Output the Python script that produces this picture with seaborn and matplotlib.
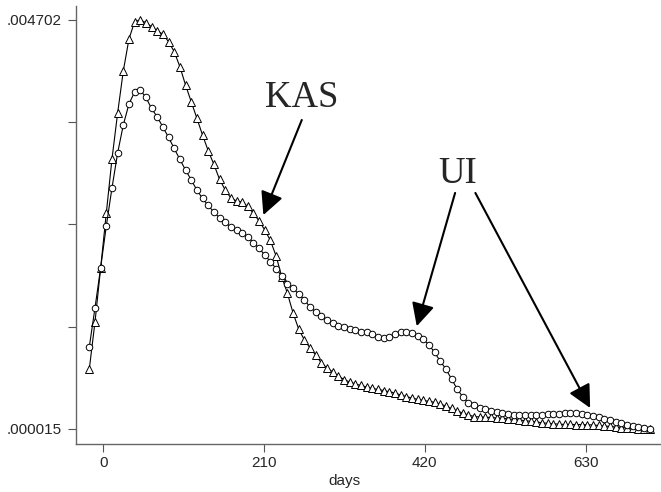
import numpy as np
import pandas as pd
import matplotlib
matplotlib.use("Agg")
import matplotlib.pyplot as plt
import seaborn as sns

# kernel density of spell length, evaluated on 100 grid points (days)
days = [-18.3, -10.9, -3.5, 3.9, 11.3, 18.7, 26.1, 33.5, 40.9, 48.2,
        55.6, 63.0, 70.4, 77.8, 85.2, 92.6, 100.0, 107.4, 114.8, 122.2,
        129.6, 137.0, 144.4, 151.8, 159.2, 166.6, 174.0, 181.3, 188.7, 196.1,
        203.5, 210.9, 218.3, 225.7, 233.1, 240.5, 247.9, 255.3, 262.7, 270.1,
        277.5, 284.9, 292.3, 299.7, 307.0, 314.4, 321.8, 329.2, 336.6, 344.0,
        351.4, 358.8, 366.2, 373.6, 381.0, 388.4, 395.8, 403.2, 410.6, 418.0,
        425.3, 432.7, 440.1, 447.5, 454.9, 462.3, 469.7, 477.1, 484.5, 491.9,
        499.3, 506.7, 514.1, 521.5, 528.9, 536.3, 543.7, 551.0, 558.4, 565.8,
        573.2, 580.6, 588.0, 595.4, 602.8, 610.2, 617.6, 625.0, 632.4, 639.8,
        647.2, 654.6, 662.0, 669.4, 676.8, 684.1, 691.5, 698.9, 706.3, 713.7]

# densities in units of 1e-3
kas_e3 = [0.703, 1.241, 1.860, 2.490, 3.109, 3.636, 4.118, 4.484, 4.683, 4.702,
          4.671, 4.625, 4.580, 4.538, 4.453, 4.339, 4.167, 3.957, 3.766, 3.576,
          3.384, 3.204, 3.048, 2.877, 2.754, 2.662, 2.628, 2.616, 2.565, 2.485,
          2.399, 2.296, 2.175, 1.998, 1.760, 1.570, 1.344, 1.158, 1.035, 0.943,
          0.863, 0.771, 0.714, 0.668, 0.622, 0.582, 0.554, 0.531, 0.514, 0.496,
          0.481, 0.468, 0.456, 0.442, 0.428, 0.405, 0.387, 0.370, 0.355, 0.342,
          0.332, 0.321, 0.301, 0.279, 0.250, 0.221, 0.198, 0.175, 0.158, 0.153,
          0.149, 0.147, 0.141, 0.138, 0.130, 0.124, 0.118, 0.110, 0.103, 0.095,
          0.087, 0.080, 0.075, 0.070, 0.067, 0.067, 0.066, 0.066, 0.064, 0.061,
          0.055, 0.049, 0.044, 0.038, 0.032, 0.026, 0.023, 0.020, 0.017, 0.015]

ui_e3 = [0.958, 1.402, 1.864, 2.341, 2.777, 3.178, 3.499, 3.740, 3.877, 3.900,
         3.814, 3.688, 3.591, 3.476, 3.356, 3.230, 3.104, 2.983, 2.869, 2.754,
         2.657, 2.576, 2.502, 2.433, 2.382, 2.330, 2.296, 2.258, 2.212, 2.150,
         2.086, 2.009, 1.932, 1.854, 1.763, 1.682, 1.625, 1.562, 1.493, 1.413,
         1.356, 1.310, 1.264, 1.226, 1.195, 1.180, 1.161, 1.144, 1.132, 1.121,
         1.098, 1.069, 1.054, 1.069, 1.104, 1.127, 1.130, 1.112, 1.081, 1.041,
         0.983, 0.892, 0.794, 0.703, 0.588, 0.473, 0.382, 0.313, 0.287, 0.261,
         0.241, 0.221, 0.206, 0.195, 0.183, 0.175, 0.172, 0.172, 0.175, 0.175,
         0.179, 0.187, 0.187, 0.190, 0.195, 0.195, 0.195, 0.190, 0.181, 0.167,
         0.153, 0.133, 0.115, 0.095, 0.080, 0.064, 0.049, 0.034, 0.021, 0.018]

x_ticks = [0, 210, 420, 630]
y_min, y_max = 0.000015, 0.004702

df = pd.DataFrame({"days": days,
                   "KAS": np.array(kas_e3) / 1000,
                   "UI": np.array(ui_e3) / 1000})

sns.set_style("ticks")
plt.rcParams["font.family"] = ["Liberation Sans", "DejaVu Sans"]

fig = plt.figure(figsize=(6.61, 4.92), dpi=100)
ax = fig.add_axes([76 / 661, 48 / 492, 584 / 661, 438 / 492])

sns.lineplot(data=df, x="days", y="KAS", ax=ax, sort=False, estimator=None,
             color="black", lw=0.8, marker="^", markersize=5.8,
             markerfacecolor="white", markeredgecolor="black", markeredgewidth=0.7)
sns.lineplot(data=df, x="days", y="UI", ax=ax, sort=False, estimator=None,
             color="black", lw=0.8, marker="o", markersize=4.7,
             markerfacecolor="white", markeredgecolor="black", markeredgewidth=0.7)

ax.set_xlim(-35.7, 727.3)
ax.set_ylim(-0.000157, 0.004862)

ax.set_xticks(x_ticks)
ax.set_xticklabels([str(t) for t in x_ticks])
yt = np.linspace(y_min, y_max, 5)
ax.set_yticks(yt)
ax.set_yticklabels([".000015", "", "", "", ".004702"])

ax.tick_params(axis="both", labelsize=11, length=6, width=0.8, color="#555555",
               direction="out")
ax.tick_params(axis="y", pad=4)
ax.tick_params(axis="x", pad=2.5)

sns.despine(ax=ax)
for s in ["left", "bottom"]:
    ax.spines[s].set_color("#666666")
    ax.spines[s].set_linewidth(1.0)

ax.set_ylabel("")
ax.set_xlabel("days", fontsize=11)
ax.xaxis.set_label_coords(0.459, -0.068)

# annotations
serif = ["Liberation Serif", "DejaVu Serif"]
ax.text(259.7, 0.003705, "KAS", family=serif, fontsize=26.5, ha="center", va="baseline")
ax.text(462.9, 0.002834, "UI", family=serif, fontsize=26.5, ha="center", va="baseline")

arrow = dict(arrowstyle="-|>,head_length=1.0,head_width=0.5", color="black",
             lw=1.5, shrinkA=0, shrinkB=0, mutation_scale=14)
ax.annotate("", xy=(209.1, 0.002467), xytext=(259.3, 0.003556), arrowprops=arrow)
ax.annotate("", xy=(409.5, 0.001193), xytext=(459.6, 0.002720), arrowprops=arrow)
ax.annotate("", xy=(636.0, 0.000256), xytext=(486.1, 0.002720), arrowprops=arrow)

fig.savefig("out.png", dpi=100)
